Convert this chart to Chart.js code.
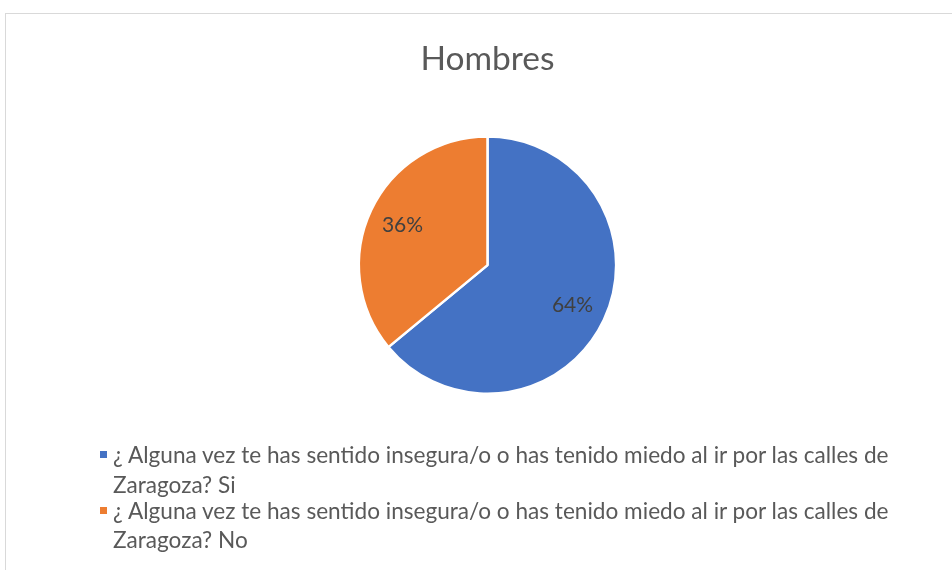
<!DOCTYPE html>
<html>
<head>
<meta charset="utf-8">
<script src="https://cdn.jsdelivr.net/npm/chart.js@4"></script>
<style>
  html, body { margin: 0; padding: 0; background: #fff; }
  #wrap { position: relative; width: 952px; height: 570px; overflow: hidden; }
  #frame { position: absolute; left: 5px; top: 13px; width: 980px; height: 600px; border: 1px solid #d9d9d9; }
  #pieChart { position: absolute; left: 0; top: 0; }
  #legend { position: absolute; left: 97px; top: 440px; font-family: Lato, sans-serif; font-size: 22.6px; line-height: 29.5px; color: #595959; }
  .item { display: flex; align-items: flex-start; }
  .item + .item { margin-top: -3.5px; }
  .box { width: 7px; height: 7px; margin: 11px 6px 0 3px; flex: none; }
  .txt { width: 800px; }
</style>
</head>
<body>
<div id="wrap">
  <div id="frame"></div>
  <canvas id="pieChart" width="952" height="570"></canvas>
  <div id="legend"></div>
</div>
<script>
const titleText = 'Hombres';
const categories = [
  '¿ Alguna vez te has sentido insegura/o o has tenido miedo al ir por las calles de Zaragoza? Si',
  '¿ Alguna vez te has sentido insegura/o o has tenido miedo al ir por las calles de Zaragoza? No'
];
const values = [64, 36];
const colors = ['#4472C4', '#ED7D31'];

// percentage labels inside the slices
const sliceLabels = {
  id: 'sliceLabels',
  afterDatasetsDraw(chart) {
    const ctx = chart.ctx;
    const meta = chart.getDatasetMeta(0);
    const total = values.reduce((a, b) => a + b, 0);
    ctx.save();
    ctx.font = '21px Lato';
    ctx.fillStyle = '#404040';
    ctx.textAlign = 'center';
    ctx.textBaseline = 'middle';
    meta.data.forEach((arc, i) => {
      const mid = (arc.startAngle + arc.endAngle) / 2;
      const r = arc.outerRadius * 0.73;
      const x = arc.x + Math.cos(mid) * r;
      const y = arc.y + Math.sin(mid) * r;
      ctx.fillText(Math.round(values[i] / total * 100) + '%', x, y);
    });
    ctx.restore();
  }
};

const ctx1 = document.getElementById('pieChart').getContext('2d');
const pieChart = new Chart(ctx1, {
    type: 'pie',
    data: {
        labels: categories,
        datasets: [{
            data: values,
            backgroundColor: colors,
            borderColor: '#ffffff',
            borderWidth: 2.5,
            hoverOffset: 0
        }]
    },
    options: {
        responsive: false,
        animation: false,
        events: [],
        layout: { padding: { left: 357, right: 334, top: 0, bottom: 175 } },
        plugins: {
            legend: { display: false },
            tooltip: { enabled: false },
            title: {
                display: true,
                text: titleText,
                color: '#595959',
                font: { family: 'Lato', size: 33.5, weight: 'normal', lineHeight: 1.2 },
                padding: { top: 39, bottom: 56 }
            }
        }
    },
    plugins: [sliceLabels]
});

// legend built from the same arrays
const legend = document.getElementById('legend');
categories.forEach((c, i) => {
    const item = document.createElement('div');
    item.className = 'item';
    const box = document.createElement('span');
    box.className = 'box';
    box.style.background = colors[i];
    const txt = document.createElement('span');
    txt.className = 'txt';
    txt.textContent = c;
    item.appendChild(box);
    item.appendChild(txt);
    legend.appendChild(item);
});
</script>
</body>
</html>
